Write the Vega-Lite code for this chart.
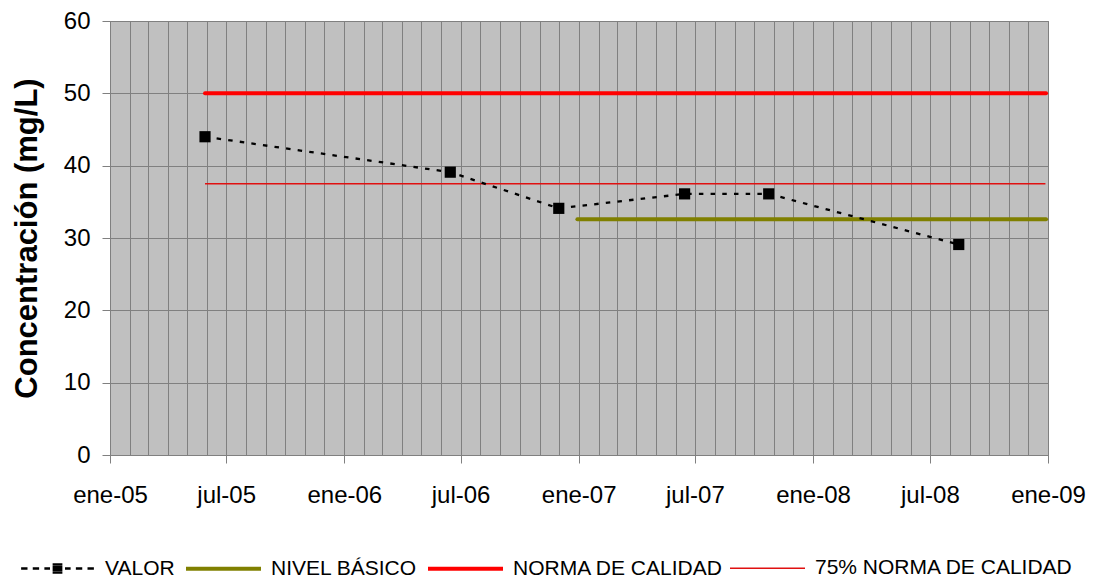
{
  "$schema": "https://vega.github.io/schema/vega-lite/v6.json",
  "width": 938,
  "height": 434,
  "autosize": "none",
  "padding": {"left": 110, "top": 21, "right": 62, "bottom": 127},
  "background": "white",
  "config": {
    "view": {"fill": "#C0C0C0", "stroke": "#808080", "strokeWidth": 1},
    "font": "Liberation Sans"
  },
  "data": {
    "values": [
      {"serie": "VALOR", "fecha": "2005-05-29", "valor": 44.0},
      {"serie": "VALOR", "fecha": "2006-06-15", "valor": 39.1},
      {"serie": "VALOR", "fecha": "2006-12-01", "valor": 34.1},
      {"serie": "VALOR", "fecha": "2007-06-15", "valor": 36.1},
      {"serie": "VALOR", "fecha": "2007-10-24", "valor": 36.1},
      {"serie": "VALOR", "fecha": "2008-08-15", "valor": 29.1},
      {"serie": "NIVEL BÁSICO", "fecha": "2006-12-30", "valor": 32.6},
      {"serie": "NIVEL BÁSICO", "fecha": "2008-12-29", "valor": 32.6},
      {"serie": "NORMA DE CALIDAD", "fecha": "2005-05-29", "valor": 50},
      {"serie": "NORMA DE CALIDAD", "fecha": "2008-12-29", "valor": 50},
      {"serie": "75% NORMA DE CALIDAD", "fecha": "2005-05-29", "valor": 37.5},
      {"serie": "75% NORMA DE CALIDAD", "fecha": "2008-12-28", "valor": 37.5}
    ]
  },
  "encoding": {
    "x": {
      "field": "fecha",
      "type": "temporal",
      "scale": {
        "type": "utc",
        "domain": [
          {"year": 2005, "month": 1, "date": 1, "utc": true},
          {"year": 2009, "month": 1, "date": 1, "utc": true}
        ]
      },
      "axis": {
        "title": null,
        "tickCount": {"interval": "month", "step": 1},
        "grid": true,
        "gridColor": "#808080",
        "gridWidth": 1,
        "gridOpacity": 1,
        "domainColor": "#808080",
        "domainWidth": 1,
        "tickColor": "#808080",
        "tickWidth": 1,
        "tickSize": 8,
        "tickOpacity": {"condition": {"test": "utcmonth(datum.value) % 6 == 0", "value": 1}, "value": 0},
        "labelExpr": "utcmonth(datum.value) == 0 ? 'ene-' + utcFormat(datum.value, '%y') : (utcmonth(datum.value) == 6 ? 'jul-' + utcFormat(datum.value, '%y') : '')",
        "labelFont": "Liberation Sans",
        "labelFontSize": 24,
        "labelColor": "black",
        "labelPadding": 20,
        "labelOverlap": false,
        "labelFlush": false,
        "labelBound": false
      }
    },
    "y": {
      "field": "valor",
      "type": "quantitative",
      "scale": {"domain": [0, 60], "nice": false, "zero": true},
      "axis": {
        "values": [0, 10, 20, 30, 40, 50, 60],
        "grid": true,
        "gridColor": "#808080",
        "gridWidth": 1,
        "gridOpacity": 1,
        "domainColor": "#808080",
        "tickColor": "#808080",
        "tickSize": 8,
        "labelFont": "Liberation Sans",
        "labelFontSize": 24,
        "labelColor": "black",
        "labelPadding": 12,
        "title": "Concentración (mg/L)",
        "titleFont": "Liberation Sans",
        "titleFontSize": 31,
        "titleFontWeight": "bold",
        "titleColor": "black",
        "titlePadding": 20
      }
    }
  },
  "layer": [
    {
      "transform": [{"filter": "datum.serie == '75% NORMA DE CALIDAD'"}],
      "mark": {"type": "line", "clip": false, "color": "#E01010", "strokeWidth": 1.4}
    },
    {
      "transform": [{"filter": "datum.serie == 'NIVEL BÁSICO'"}],
      "mark": {"type": "line", "clip": false, "color": "#808000", "strokeWidth": 4, "strokeCap": "round"}
    },
    {
      "transform": [{"filter": "datum.serie == 'NORMA DE CALIDAD'"}],
      "mark": {"type": "line", "clip": false, "color": "#FF0000", "strokeWidth": 4, "strokeCap": "round"}
    },
    {
      "transform": [{"filter": "datum.serie == 'VALOR'"}],
      "mark": {"type": "line", "color": "black", "strokeWidth": 2.3, "strokeDash": [4.5, 7.2]}
    },
    {
      "transform": [{"filter": "datum.serie == 'VALOR'"}],
      "mark": {"type": "point", "shape": "square", "filled": true, "color": "black", "size": 125, "opacity": 1}
    },
    {
      "mark": {"type": "point", "filled": false, "opacity": 0},
      "encoding": {
        "shape": {
          "field": "serie",
          "type": "nominal",
          "scale": {
            "domain": ["VALOR", "NIVEL BÁSICO", "NORMA DE CALIDAD", "75% NORMA DE CALIDAD"],
            "range": [
              "M-0.97,0H-0.8M-0.66,0H-0.49M-0.35,0H-0.2M-0.13,-0.105H0.13M-0.13,-0.035H0.13M-0.13,0.035H0.13M-0.13,0.105H0.13M0.2,0H0.35M0.49,0H0.66M0.8,0H0.97",
              "M-1,0H1",
              "M-1,0H1",
              "M-1,0H1"
            ]
          },
          "legend": {
            "orient": "none",
            "legendX": -92,
            "legendY": 508,
            "direction": "horizontal",
            "columns": 4,
            "title": null,
            "padding": 0,
            "symbolSize": 5625,
            "symbolOpacity": 1,
            "labelFont": "Liberation Sans",
            "labelFontSize": 21,
            "labelColor": "black",
            "labelOffset": 8,
            "labelLimit": 0,
            "columnPadding": 3
          }
        },
        "color": {
          "field": "serie",
          "type": "nominal",
          "scale": {
            "domain": ["VALOR", "NIVEL BÁSICO", "NORMA DE CALIDAD", "75% NORMA DE CALIDAD"],
            "range": ["#000000", "#808000", "#FF0000", "#E01010"]
          },
          "legend": {
            "orient": "none",
            "legendX": -92,
            "legendY": 508,
            "direction": "horizontal",
            "columns": 4,
            "title": null,
            "padding": 0,
            "symbolSize": 5625,
            "symbolOpacity": 1,
            "labelFont": "Liberation Sans",
            "labelFontSize": 21,
            "labelColor": "black",
            "labelOffset": 8,
            "labelLimit": 0,
            "columnPadding": 3
          }
        },
        "strokeWidth": {
          "field": "serie",
          "type": "nominal",
          "scale": {
            "type": "ordinal",
            "domain": ["VALOR", "NIVEL BÁSICO", "NORMA DE CALIDAD", "75% NORMA DE CALIDAD"],
            "range": [2.5, 4, 4, 1.5]
          },
          "legend": {
            "orient": "none",
            "legendX": -92,
            "legendY": 508,
            "direction": "horizontal",
            "columns": 4,
            "title": null,
            "padding": 0,
            "symbolSize": 5625,
            "symbolOpacity": 1,
            "labelFont": "Liberation Sans",
            "labelFontSize": 21,
            "labelColor": "black",
            "labelOffset": 8,
            "labelLimit": 0,
            "columnPadding": 3
          }
        }
      }
    }
  ]
}
